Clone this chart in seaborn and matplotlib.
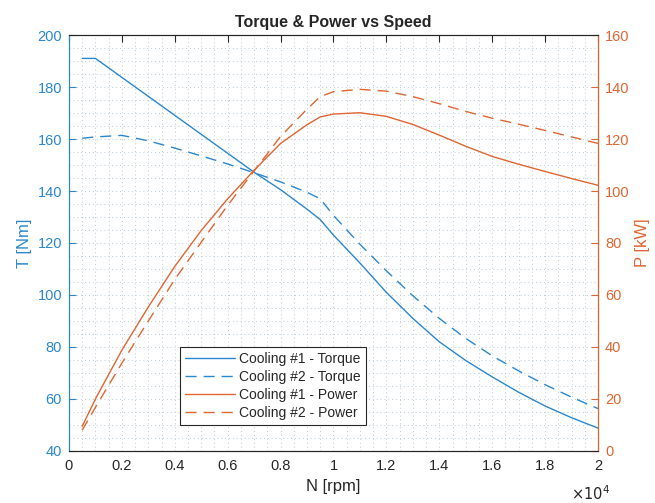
import numpy as np
import pandas as pd
import matplotlib
matplotlib.use("Agg")
import matplotlib.pyplot as plt
import seaborn as sns
from matplotlib.ticker import MultipleLocator, FuncFormatter

# Values
speed = [500, 1000, 2000, 3000, 4000, 5000, 6000, 7000, 8000, 9000, 9500,
         10000, 11000, 12000, 13000, 14000, 15000, 16000, 17000, 18000, 19000, 20000]
torque_c1 = [191, 191, 183.7, 176.4, 169.1, 161.8, 154.5, 147.2, 140.5, 133, 129,
             123, 112.3, 101, 91, 82, 74.8, 68.5, 62.6, 57.3, 52.8, 48.8]
torque_c2 = [160.3, 160.8, 161.4, 159.3, 156.5, 153.5, 150.4, 147, 143.5, 139.5, 137,
             130.6, 119.5, 109.3, 99.7, 91, 83.3, 76.6, 70.8, 65.5, 60.7, 56.3]
power_c1 = [9.5, 20, 38.8, 55.4, 71, 84.8, 97, 108, 118.3, 125.5, 128.5,
            129.6, 130.1, 128.7, 125.6, 121.5, 117.2, 113.3, 110.3, 107.5, 104.8, 102.2]
power_c2 = [8, 16.8, 33.8, 50, 66, 80.3, 94.5, 107.7, 121, 131.5, 136.3,
            138.2, 139.1, 138.4, 136.3, 133.6, 130.6, 128, 125.7, 123.3, 120.8, 118.3]

df = pd.DataFrame({"speed": speed, "T1": torque_c1, "T2": torque_c2,
                   "P1": power_c1, "P2": power_c2})

blue = "#2b87cd"
orange = "#dd6633"
grid_col = "#b9cadb"
dash = (0, (8, 5))

sns.set_style("white")
plt.rcParams["font.family"] = ["Liberation Sans", "DejaVu Sans"]

fig = plt.figure(figsize=(6.55, 5.03), dpi=100)
ax = fig.add_axes([0.1053, 0.1034, 0.8077, 0.827])
ax2 = ax.twinx()

sns.lineplot(data=df, x="speed", y="T1", ax=ax, color=blue, lw=1.0,
             label="Cooling #1 - Torque", legend=False)
sns.lineplot(data=df, x="speed", y="T2", ax=ax, color=blue, lw=1.0,
             linestyle=dash, label="Cooling #2 - Torque", legend=False)
sns.lineplot(data=df, x="speed", y="P1", ax=ax2, color=orange, lw=1.0,
             label="Cooling #1 - Power", legend=False)
sns.lineplot(data=df, x="speed", y="P2", ax=ax2, color=orange, lw=1.0,
             linestyle=dash, label="Cooling #2 - Power", legend=False)

ax.set_xlim(0, 20000)
ax.set_ylim(40, 200)
ax2.set_ylim(0, 160)

ax.xaxis.set_major_locator(MultipleLocator(2000))
ax.xaxis.set_minor_locator(MultipleLocator(500))
ax.yaxis.set_major_locator(MultipleLocator(20))
ax.yaxis.set_minor_locator(MultipleLocator(5))
ax2.yaxis.set_major_locator(MultipleLocator(20))
ax.xaxis.set_major_formatter(FuncFormatter(lambda v, p: f"{v / 1e4:g}"))

# dotted minor grid
ax.grid(True, which="both", axis="both", color=grid_col, linestyle=(0, (1, 3)), lw=0.7)
ax.set_axisbelow(True)

ax.tick_params(axis="x", which="major", direction="in", length=5, top=True,
               labelsize=10.5, colors="#262626", pad=6)
ax.tick_params(axis="x", which="minor", length=0)
ax.tick_params(axis="y", which="major", direction="in", length=5,
               labelsize=10.5, colors=blue, pad=5)
ax.tick_params(axis="y", which="minor", length=0)
ax2.tick_params(axis="y", which="major", direction="in", length=5,
                labelsize=10.5, colors=orange, pad=5)

for a in (ax, ax2):
    for s in a.spines.values():
        s.set_linewidth(0.8)
        s.set_color("#262626")
ax2.spines["left"].set_color(blue)
ax2.spines["right"].set_color(orange)
ax.spines["left"].set_color(blue)

ax.set_xlabel("N [rpm]", fontsize=12, color="#262626", labelpad=4)
ax.set_ylabel("T [Nm]", fontsize=12, color=blue, labelpad=4)
ax2.set_ylabel("P [kW]", fontsize=12, color=orange, labelpad=4)
ax.set_title("Torque & Power vs Speed", fontsize=11.5, fontweight="bold", pad=6)

ax.text(0.985, -0.103, r"$\times10^4$", transform=ax.transAxes, ha="center",
        va="center", fontsize=10.5, color="#262626")

h1, l1 = ax.get_legend_handles_labels()
h2, l2 = ax2.get_legend_handles_labels()
leg = ax2.legend(h1 + h2, l1 + l2, loc="lower left", bbox_to_anchor=(0.21, 0.062),
                 fontsize=10, frameon=True, fancybox=False, framealpha=1,
                 edgecolor="#262626", handlelength=3.6, borderpad=0.35,
                 labelspacing=0.3, handletextpad=0.3, borderaxespad=0)
leg.get_frame().set_linewidth(0.8)

fig.savefig("out.png", dpi=100)
